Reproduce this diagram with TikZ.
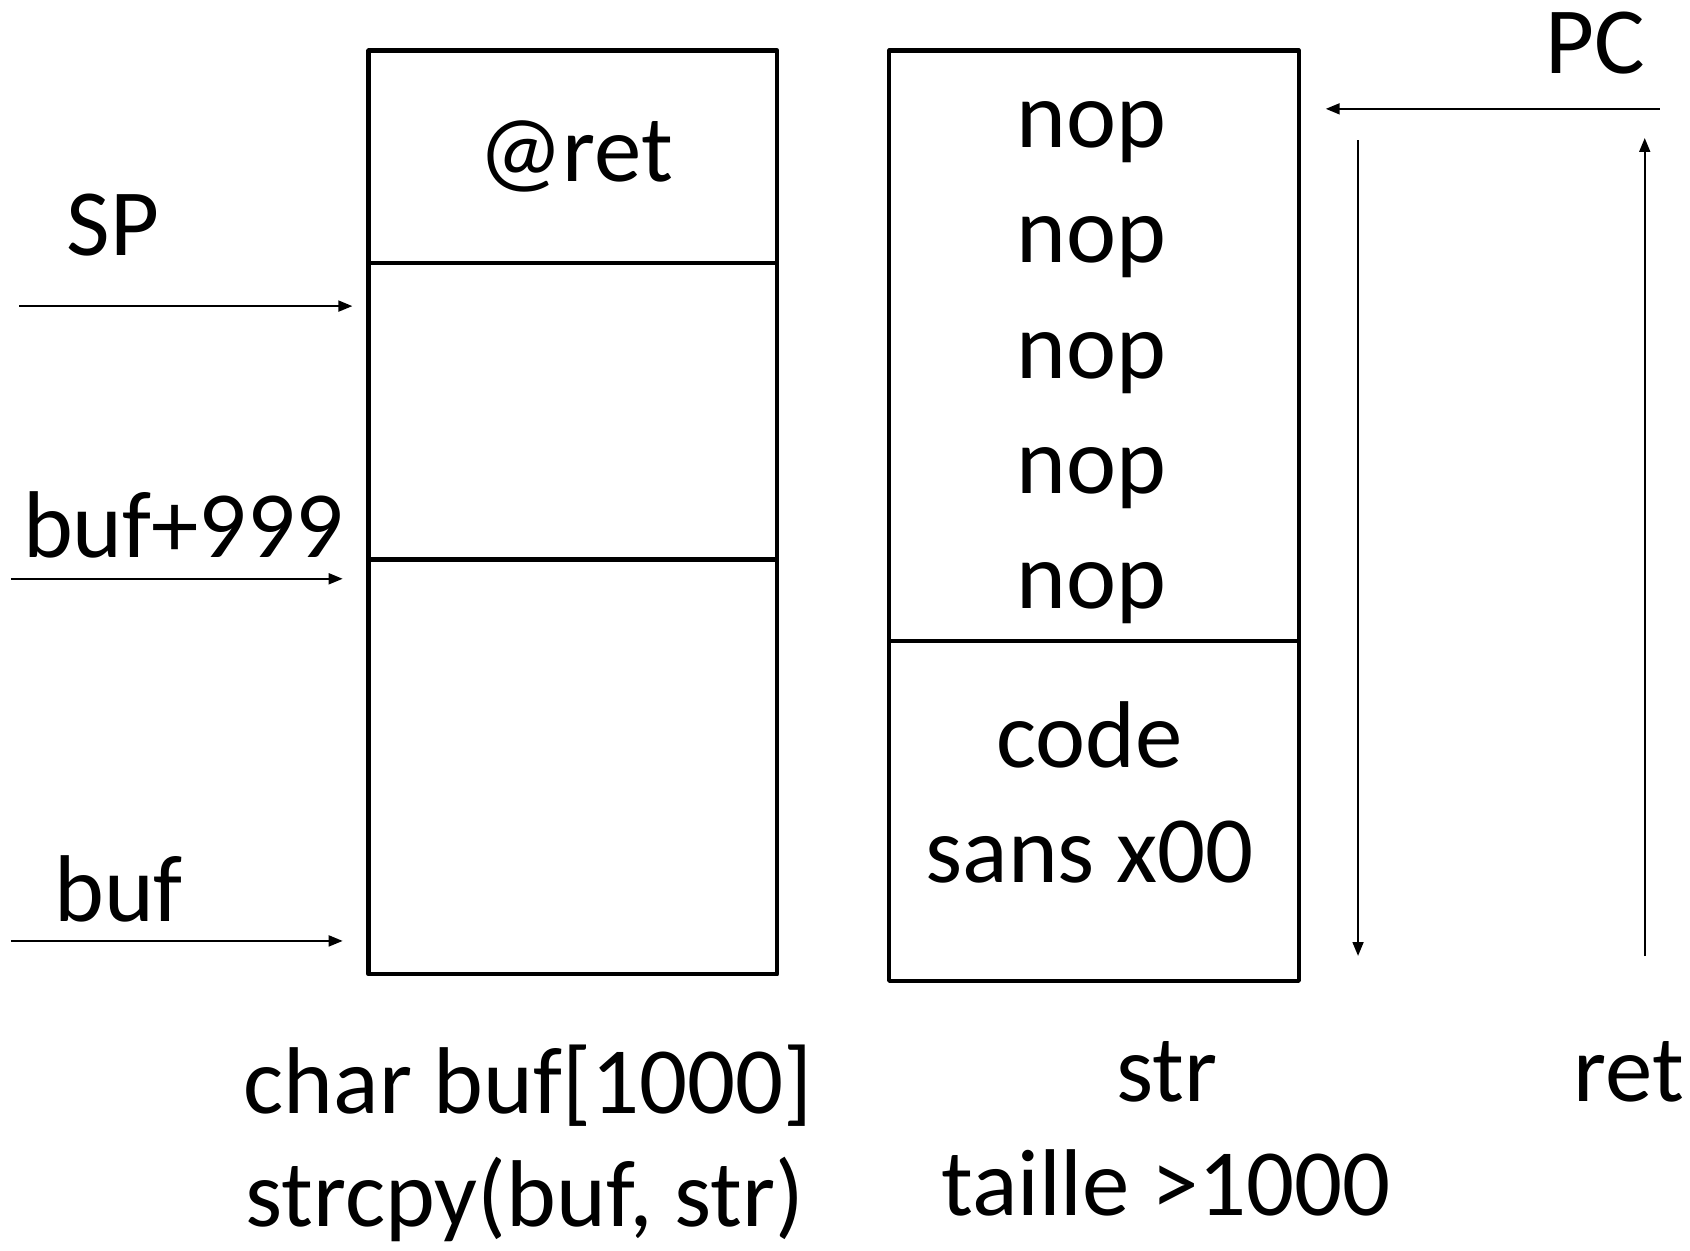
\documentclass[tikz,border=0pt]{standalone}
\usepackage{fontspec}
\setmainfont{Carlito}
\usetikzlibrary{arrows.meta}
\begin{document}
\begin{tikzpicture}[x=0.5pt,y=-0.5pt,
  cell/.style={draw,line width=2pt,line join=round,inner sep=0pt,anchor=north west},
  lbl/.style={inner sep=0pt,anchor=base,font=\fontsize{44pt}{53.5pt}\selectfont},
  ptr/.style={line width=1.1pt,-{Triangle[length=6.5pt,width=5pt]}}]
\useasboundingbox (0,0) rectangle (1568,1160);
% left stack
\node[cell,minimum width=379*0.5pt,minimum height=197*0.5pt] (L1) at (340,45) {};
\node[cell,minimum width=379*0.5pt,minimum height=275*0.5pt] (L2) at (340,242) {};
\node[cell,minimum width=379*0.5pt,minimum height=385*0.5pt] (L3) at (340,517) {};
% right stack
\node[cell,minimum width=380*0.5pt,minimum height=548*0.5pt] (R1) at (823,45) {};
\node[cell,minimum width=380*0.5pt,minimum height=315*0.5pt] (R2) at (823,593) {};
% texts
\node[lbl] (ret) at (534,168) {@ret};
\node[lbl] (sp) at (105,237) {SP};
\node[lbl] (b999) at (170,517) {buf+999};
\node[lbl] (buf) at (110,855) {buf};
\node[lbl] (n1) at (1013,137) {nop};
\node[lbl] (n2) at (1013,244) {nop};
\node[lbl] (n3) at (1013,351) {nop};
\node[lbl] (n4) at (1013,458) {nop};
\node[lbl] (n5) at (1013,565) {nop};
\node[lbl] (code) at (1011,712) {code};
\node[lbl] (sans) at (1011,819) {sans x00};
\node[lbl] (pc) at (1480,68) {PC};
\node[lbl] (c1) at (490,1033) {char buf[1000]};
\node[lbl] (c2) at (487,1138) {strcpy(buf, str)};
\node[lbl] (s1) at (1083,1022) {str};
\node[lbl] (s2) at (1082,1128) {taille >1000};
\node[lbl] (rt) at (1511,1022) {ret};
% arrow ends
\coordinate (spA) at (18,284);   \coordinate (spB) at (327,284);
\coordinate (b9A) at (10,537);   \coordinate (b9B) at (318,537);
\coordinate (bA) at (10,873);    \coordinate (bB) at (318,873);
\coordinate (pcA) at (1540,101); \coordinate (pcB) at (1230,101);
\coordinate (dA) at (1260,130);  \coordinate (dB) at (1260,887);
\coordinate (uA) at (1526,887);  \coordinate (uB) at (1526,128);
\draw[ptr] (spA) -- (spB);
\draw[ptr] (b9A) -- (b9B);
\draw[ptr] (bA) -- (bB);
\draw[ptr] (pcA) -- (pcB);
\draw[ptr] (dA) -- (dB);
\draw[ptr] (uA) -- (uB);
\end{tikzpicture}
\end{document}
